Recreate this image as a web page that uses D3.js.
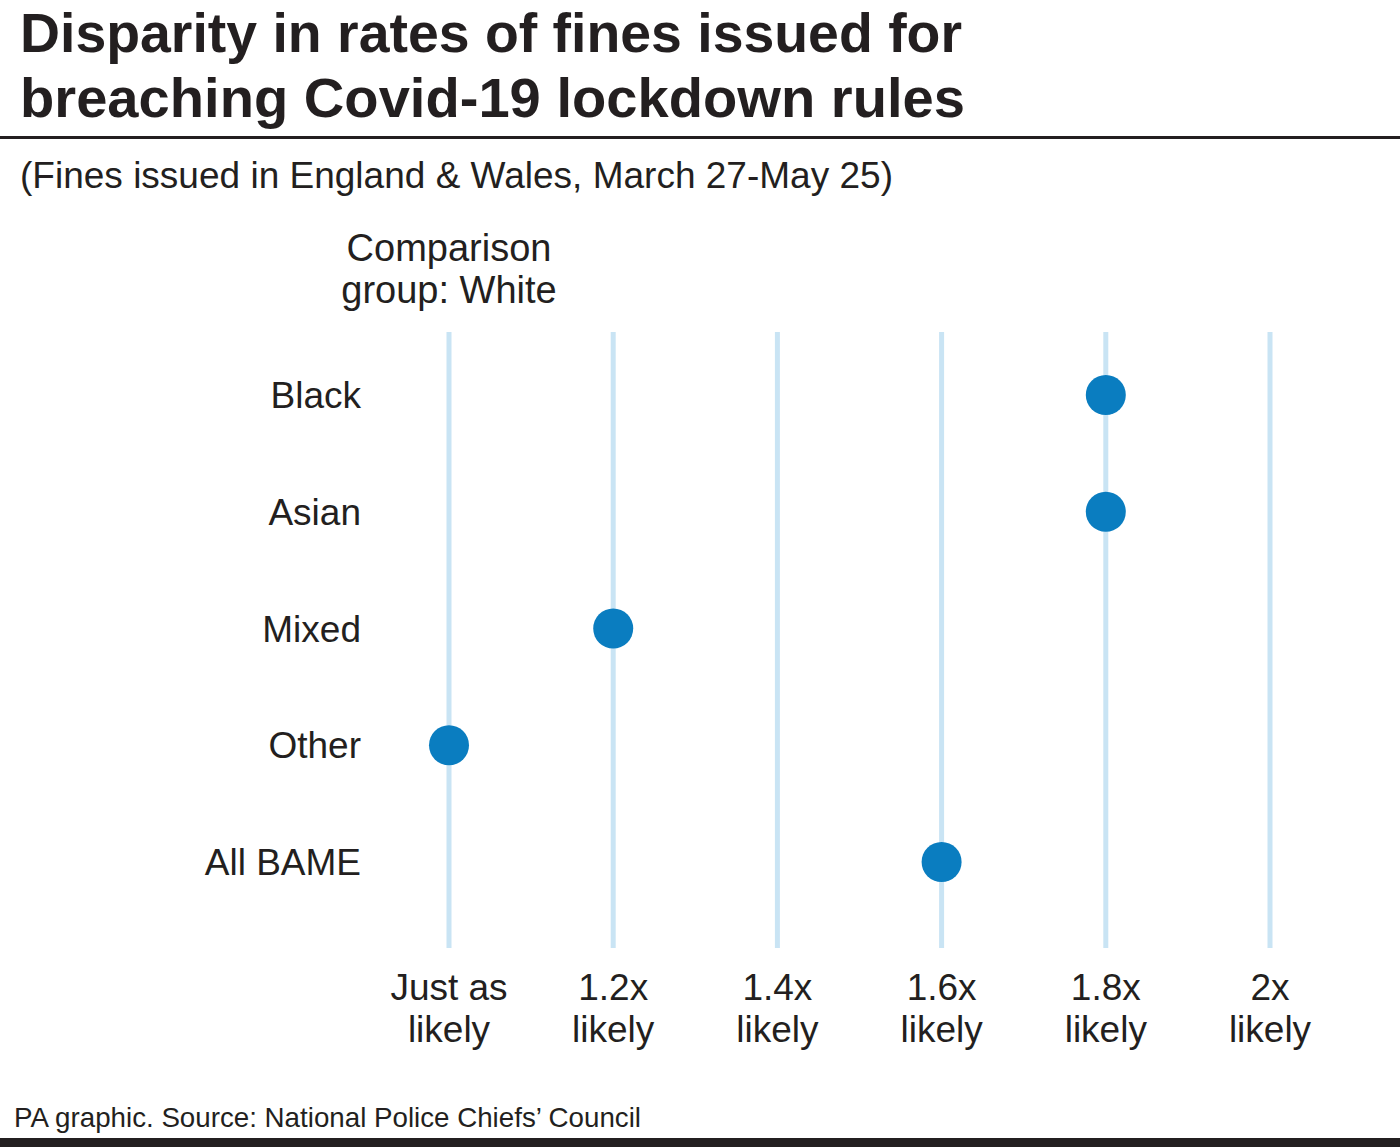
<!DOCTYPE html>
<html><head><meta charset="utf-8">
<script src="https://cdn.jsdelivr.net/npm/d3@7"></script>
<style>body{margin:0;background:#fff}svg{display:block}text{font-family:"Liberation Sans",Arial,sans-serif;fill:#231f20}</style>
</head><body>
<script>
const categories = ["Black","Asian","Mixed","Other","All BAME"];
const values = [1.8,1.8,1.2,1.0,1.6];
const tickValues = [1.0,1.2,1.4,1.6,1.8,2.0];
const tickLine1 = ["Just as","1.2x","1.4x","1.6x","1.8x","2x"];
const tickLine2 = ["likely","likely","likely","likely","likely","likely"];
const title = ["Disparity in rates of fines issued for","breaching Covid-19 lockdown rules"];
const subtitle = "(Fines issued in England & Wales, March 27-May 25)";
const compLabel = ["Comparison","group: White"];
const footer = "PA graphic. Source: National Police Chiefs\u2019 Council";

const W=1400,H=1147;
const svg=d3.select("body").append("svg").attr("width",W).attr("height",H);
const x=d3.scaleLinear().domain([1,2]).range([449,1270]);
const y=d3.scalePoint().domain(categories).range([395,862]);

svg.selectAll("text.title").data(title).enter().append("text")
 .attr("x",20).attr("y",(d,i)=>52+i*65).attr("font-size",56).attr("font-weight","bold")
 .attr("textLength",(d,i)=>i?945:942).attr("lengthAdjust","spacingAndGlyphs").text(d=>d);
svg.append("rect").attr("x",0).attr("y",136).attr("width",W).attr("height",3).attr("fill","#231f20");
svg.append("text").attr("x",20).attr("y",188).attr("font-size",37).attr("textLength",873).attr("lengthAdjust","spacingAndGlyphs").text(subtitle);
svg.selectAll("text.comp").data(compLabel).enter().append("text")
 .attr("x",449).attr("y",(d,i)=>261+i*42).attr("text-anchor","middle").attr("font-size",38).text(d=>d);

svg.selectAll("line.grid").data(tickValues).enter().append("line")
 .attr("x1",d=>x(d)).attr("x2",d=>x(d)).attr("y1",332).attr("y2",948)
 .attr("stroke","#c9e4f4").attr("stroke-width",5);

svg.selectAll("text.cat").data(categories).enter().append("text")
 .attr("x",361).attr("y",d=>y(d)+13).attr("text-anchor","end").attr("font-size",37).text(d=>d);

svg.selectAll("circle").data(categories).enter().append("circle")
 .attr("cx",(d,i)=>x(values[i])).attr("cy",d=>y(d)).attr("r",20).attr("fill","#0a7dc0");

const tg=svg.selectAll("g.tick").data(tickValues).enter().append("g").attr("transform",d=>`translate(${x(d)},0)`);
tg.append("text").attr("y",1000).attr("text-anchor","middle").attr("font-size",37).text((d,i)=>tickLine1[i]);
tg.append("text").attr("y",1042).attr("text-anchor","middle").attr("font-size",37).text((d,i)=>tickLine2[i]);

svg.append("text").attr("x",14).attr("y",1127).attr("font-size",28).attr("textLength",627).attr("lengthAdjust","spacingAndGlyphs").text(footer);
svg.append("rect").attr("x",0).attr("y",1138).attr("width",W).attr("height",9).attr("fill","#231f20");
</script>
</body></html>
